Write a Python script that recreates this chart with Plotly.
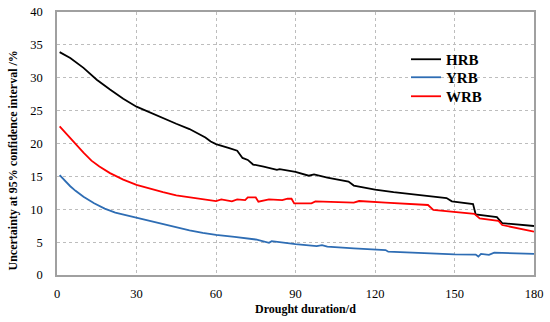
import plotly.graph_objects as go

# ---- data ----
hrb_days = [1, 5, 10, 15, 20, 25, 30, 35, 40, 45, 50, 54, 56, 58, 60, 65, 68, 70, 72, 74, 78,
            83, 84, 90, 95, 97, 102, 110, 112, 116, 120, 127, 139, 147, 149, 157, 158, 166,
            168, 173, 180]
hrb_vals = [33.9, 33.0, 31.5, 29.7, 28.2, 26.8, 25.6, 24.7, 23.8, 23.0, 22.2, 21.4, 20.9, 20.3,
            19.9, 19.3, 18.9, 17.8, 17.5, 16.8, 16.5, 16.0, 16.1, 15.7, 15.1, 15.3, 14.8, 14.2,
            13.6, 13.3, 13.0, 12.6, 12.0, 11.7, 11.2, 10.8, 9.2, 8.8, 7.9, 7.7, 7.45]

yrb_days = [1, 3, 5, 7, 10, 14, 18, 22, 26, 30, 35, 40, 45, 50, 55, 60, 67, 75, 80, 81, 90,
            98, 100, 102, 112, 120, 124, 125, 139, 150, 158, 159, 160, 163, 165, 180]
yrb_vals = [15.2, 14.3, 13.5, 12.8, 11.9, 10.9, 10.1, 9.5, 9.1, 8.8, 8.2, 7.7, 7.3, 6.8, 6.4,
            6.1, 5.8, 5.4, 4.9, 5.15, 4.7, 4.4, 4.55, 4.3, 4.05, 3.85, 3.8, 3.55, 3.3, 3.15,
            3.1, 2.8, 3.2, 3.05, 3.4, 3.2]

wrb_days = [1, 3, 5, 7, 10, 13, 16, 20, 25, 30, 35, 40, 45, 50, 55, 60, 62, 66, 68, 71, 72,
            75, 76, 80, 85, 87, 88.5, 89.5, 96, 97.5, 112, 114, 124, 130, 140, 142, 150, 157.5,
            159.5, 166.5, 168, 180]
wrb_vals = [22.6, 21.7, 20.8, 19.9, 18.6, 17.4, 16.5, 15.5, 14.5, 13.7, 13.1, 12.6, 12.1, 11.8,
            11.5, 11.25, 11.5, 11.2, 11.5, 11.4, 11.8, 11.8, 11.15, 11.5, 11.4, 11.6, 11.6, 10.9,
            10.9, 11.2, 11.0, 11.25, 11.0, 10.9, 10.65, 9.9, 9.6, 9.3, 8.6, 8.25, 7.6, 6.6]

x_ticks = [0, 30, 60, 90, 120, 150, 180]
y_ticks = [0, 5, 10, 15, 20, 25, 30, 35, 40]

SERIF = "Liberation Serif"

fig = go.Figure()
fig.add_trace(go.Scatter(x=hrb_days, y=hrb_vals, mode="lines", name="HRB", legend="legend",
                         line=dict(color="#000000", width=1.8)))
fig.add_trace(go.Scatter(x=yrb_days, y=yrb_vals, mode="lines", name="YRB", legend="legend2",
                         line=dict(color="#2E6DB4", width=1.8)))
fig.add_trace(go.Scatter(x=wrb_days, y=wrb_vals, mode="lines", name="WRB", legend="legend3",
                         line=dict(color="#FF0000", width=1.8)))

axis_common = dict(
    showline=True, linecolor="#A0A0A0", linewidth=1.5, mirror=True,
    showgrid=True, gridcolor="#BDBDBD", griddash="dot", gridwidth=1,
    zeroline=False, ticks="", automargin=False,
    tickfont=dict(family=SERIF, size=12.5, color="#000000"),
)

fig.update_xaxes(range=[0, 180], tickvals=x_ticks, ticklabelstandoff=6, **axis_common)
fig.update_yaxes(range=[0, 40], tickvals=y_ticks, ticklabelstandoff=10, **axis_common)

fig.add_annotation(text="<b>Drought duration/d</b>", xref="paper", yref="paper",
                   x=(305 - 57) / 477, y=-(309 - 275) / 263, xanchor="center", yanchor="middle",
                   showarrow=False, font=dict(family=SERIF, size=12, color="#000000"))
fig.add_annotation(text="<b>Uncertainty at 95% confidence interval /%</b>", xref="paper",
                   yref="paper", x=-(57 - 12) / 477, y=(275 - 160.5) / 263,
                   xanchor="center", yanchor="middle", textangle=-90, showarrow=False,
                   font=dict(family=SERIF, size=12, color="#000000"))


def legend_at(top_px):
    return dict(x=(406 - 57) / 477, y=(275 - top_px) / 263, xanchor="left", yanchor="top",
                bgcolor="rgba(0,0,0,0)",
                font=dict(family=SERIF, size=15, color="#000000", weight="bold"),
                itemwidth=30)


fig.update_layout(
    template="none",
    width=550, height=322,
    margin=dict(l=57, r=16, t=12, b=47, autoexpand=False),
    paper_bgcolor="white", plot_bgcolor="white",
    showlegend=True,
    legend=legend_at(43),
    legend2=legend_at(61),
    legend3=legend_at(80),
)

fig.write_html("out.html", config={"displayModeBar": False},
               post_script="document.body.style.margin='0';document.body.style.overflow='hidden';")
